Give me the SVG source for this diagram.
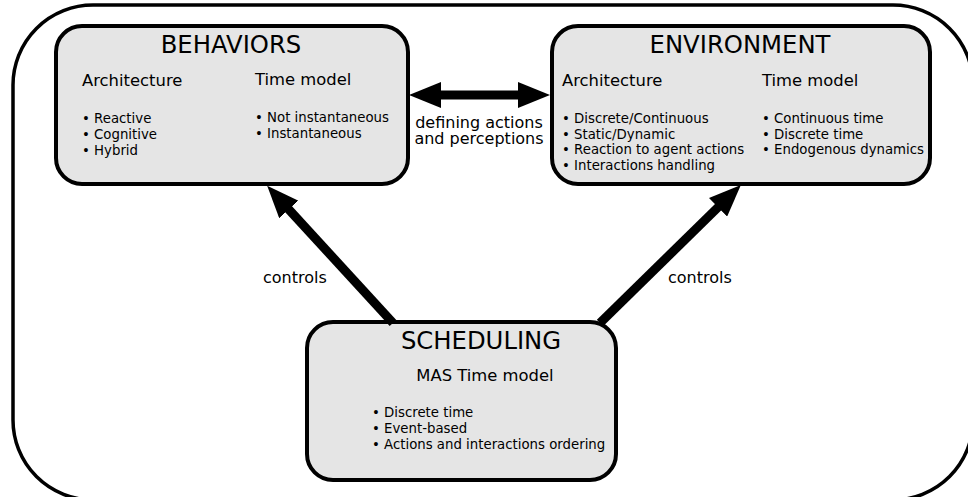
<svg xmlns="http://www.w3.org/2000/svg" width="968" height="497" viewBox="0 0 968 497">
  <style>
    text { font-family: "DejaVu Sans", "Liberation Sans", sans-serif; fill: #000; }
    .title { font-size: 24.3px; text-anchor: middle; }
    .head { font-size: 16.4px; }
    .item { font-size: 13.3px; }
    .label { font-size: 16px; }
    .box { fill: #e5e5e5; stroke: #000; stroke-width: 4; }
    .frame { fill: #fff; stroke: #000; stroke-width: 3.5; }
    .link { stroke: #000; stroke-width: 9; fill: none; }
  </style>
  <defs>
    <marker id="head" viewBox="0 0 32 26" refX="12" refY="13" markerWidth="32" markerHeight="26" markerUnits="userSpaceOnUse" orient="auto-start-reverse">
      <path d="M0,0 L32,13 L0,26 z" fill="#000"/>
    </marker>
  </defs>

  <!-- outer frame -->
  <rect class="frame" x="13" y="5" width="960" height="495" rx="80" ry="80"/>

  <g id="behaviors">
    <rect class="box" x="56" y="26" width="352" height="158" rx="26" ry="26"/>
    <text class="title" x="231" y="53">BEHAVIORS</text>
    <text class="head" x="82" y="86">Architecture</text>
    <text class="head" x="255" y="85">Time model</text>
    <text class="item" x="82" y="123">• Reactive</text>
    <text class="item" x="82" y="138.8">• Cognitive</text>
    <text class="item" x="82" y="154.6">• Hybrid</text>
    <text class="item" x="255" y="122">• Not instantaneous</text>
    <text class="item" x="255" y="137.8">• Instantaneous</text>
  </g>

  <g id="environment">
    <rect class="box" x="552" y="26" width="378" height="158" rx="26" ry="26"/>
    <text class="title" x="740" y="53">ENVIRONMENT</text>
    <text class="head" x="562" y="86">Architecture</text>
    <text class="head" x="762" y="86">Time model</text>
    <text class="item" x="562" y="122.7">• Discrete/Continuous</text>
    <text class="item" x="562" y="138.5">• Static/Dynamic</text>
    <text class="item" x="562" y="154.3">• Reaction to agent actions</text>
    <text class="item" x="562" y="170.1">• Interactions handling</text>
    <text class="item" x="762" y="122.7">• Continuous time</text>
    <text class="item" x="762" y="138.5">• Discrete time</text>
    <text class="item" x="762" y="154.3">• Endogenous dynamics</text>
  </g>

  <g id="scheduling">
    <rect class="box" x="307" y="322" width="309" height="158" rx="26" ry="26"/>
    <text class="title" x="481" y="349">SCHEDULING</text>
    <text class="head" x="485" y="381" text-anchor="middle">MAS Time model</text>
    <text class="item" x="372" y="417">• Discrete time</text>
    <text class="item" x="372" y="433">• Event-based</text>
    <text class="item" x="372" y="449">• Actions and interactions ordering</text>
  </g>

  <g id="connectors">
    <line class="link" x1="429" y1="95" x2="530" y2="95" marker-start="url(#head)" marker-end="url(#head)"/>
    <text class="label" text-anchor="middle"><tspan x="479" y="128">defining actions</tspan><tspan x="479" y="144">and perceptions</tspan></text>

    <line class="link" x1="393" y1="323" x2="280.7" y2="200.6" marker-end="url(#head)"/>
    <text class="label" x="263" y="283">controls</text>

    <line class="link" x1="600" y1="323" x2="726.6" y2="198.9" marker-end="url(#head)"/>
    <text class="label" x="668" y="283">controls</text>
  </g>
</svg>
